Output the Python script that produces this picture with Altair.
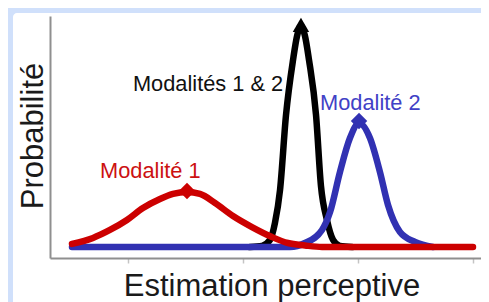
import altair as alt
import pandas as pd

# ---- data (x: perceptual estimate, y: probability) ----
red_x = [0.513, 0.696, 0.843, 0.991, 1.130, 1.278, 1.391, 1.513, 1.626, 1.757,
         1.913, 2.078, 2.252, 2.391, 2.539, 2.687, 4.000]
red_y = [0.014, 0.041, 0.077, 0.122, 0.176, 0.217, 0.240, 0.249, 0.240, 0.199,
         0.140, 0.090, 0.045, 0.018, 0.007, 0.000, 0.000]

blue_x = [0.513, 2.409, 2.539, 2.687, 2.757, 2.843, 2.930, 3.009, 3.104, 3.191,
          3.261, 3.365, 3.496, 3.652]
blue_y = [0.000, 0.000, 0.018, 0.077, 0.158, 0.339, 0.493, 0.561, 0.493, 0.339,
          0.190, 0.068, 0.023, 0.000]

black_x = [2.061, 2.165, 2.235, 2.278, 2.322, 2.374, 2.435, 2.470, 2.504, 2.539,
           2.574, 2.635, 2.678, 2.730, 2.783, 2.843, 2.948]
black_y = [0.000, 0.005, 0.032, 0.109, 0.258, 0.597, 0.846, 0.955, 1.000, 0.955,
           0.846, 0.597, 0.276, 0.122, 0.032, 0.005, 0.000]

marker_x = [1.513, 3.009, 2.504]
marker_y = [0.253, 0.570, 1.005]
marker_shape = ["diamond", "diamond", "triangle-up"]
marker_color = ["#cc0000", "#3131b2", "#000000"]

label_text = ["Modalité 1", "Modalité 2", "Modalités 1 & 2"]
label_x = [0.757, 2.670, 1.043]
label_y = [0.312, 0.620, 0.706]
label_color = ["#cc1111", "#4141c6", "#111111"]

x_ticks = [1, 2, 3, 4]
X_DOMAIN = [0.3217, 4.0696]
Y_DOMAIN = [-0.0498, 1.0452]

RED = "#cc0000"
BLUE = "#3131b2"
BLACK = "#000000"
FONT = "Liberation Sans"

# ---- tables ----
red_df = pd.DataFrame({"x": red_x, "y": red_y})
blue_df = pd.DataFrame({"x": blue_x, "y": blue_y})
black_df = pd.DataFrame({"x": black_x, "y": black_y})
marker_df = pd.DataFrame({"x": marker_x, "y": marker_y,
                          "shape": marker_shape, "color": marker_color})
label_df = pd.DataFrame({"x": label_x, "y": label_y,
                         "text": label_text, "color": label_color})

xs = alt.Scale(domain=X_DOMAIN, nice=False, zero=False)
ys = alt.Scale(domain=Y_DOMAIN, nice=False, zero=False)

xaxis = alt.Axis(values=x_ticks, labels=False, ticks=True, tickSize=5,
                 tickColor="#c4c4c4", tickWidth=1.5, domainColor="#8f8f8f",
                 domainWidth=2, grid=False, title="Estimation perceptive",
                 titleFont=FONT, titleFontSize=31, titleFontWeight="normal",
                 titleColor="#1a1a1a", titleX=221.5, titleY=37,
                 titleBaseline="alphabetic", titleAlign="center", titleAngle=0,
                 zindex=1)
yaxis = alt.Axis(labels=False, ticks=False, grid=False, domainColor="#8f8f8f",
                 domainWidth=2, title="Probabilité", titleFont=FONT,
                 titleFontSize=31, titleFontWeight="normal", titleColor="#1a1a1a",
                 titleAngle=270, titleX=-8, titleY=119.5,
                 titleBaseline="alphabetic", titleAlign="center", zindex=1)

X = alt.X("x:Q", scale=xs, axis=xaxis)
Y = alt.Y("y:Q", scale=ys, axis=yaxis)

# white panel on the light-blue page
panel = alt.Chart(pd.DataFrame({"a": [0]})).mark_rect(
    color="white", cornerRadius=4
).encode(x=alt.value(-37), x2=alt.value(460), y=alt.value(-3), y2=alt.value(320))


def curve(df, color):
    return alt.Chart(df).mark_line(
        color=color, strokeWidth=6.5, interpolate="monotone",
        strokeCap="round", strokeJoin="round"
    ).encode(x=X, y=Y)


markers = alt.Chart(marker_df).mark_point(filled=True, opacity=1, size=270).encode(
    x=X, y=Y,
    shape=alt.Shape("shape:N", scale=None),
    color=alt.Color("color:N", scale=None),
)

labels = alt.Chart(label_df).mark_text(
    align="left", baseline="alphabetic", font=FONT, fontSize=21.8
).encode(x=X, y=Y, text="text:N", color=alt.Color("color:N", scale=None))

chart = alt.layer(
    panel,
    curve(black_df, BLACK),
    curve(blue_df, BLUE),
    curve(red_df, RED),
    markers,
    labels,
).properties(
    width=431, height=242,
    autosize=alt.AutoSizeParams(type="none"),
    padding={"left": 42, "top": 8, "right": 0, "bottom": 44},
).configure(background="#d0e0fb").configure_view(strokeWidth=0)

chart.save("out.html", embed_options={"renderer": "svg", "actions": False})
